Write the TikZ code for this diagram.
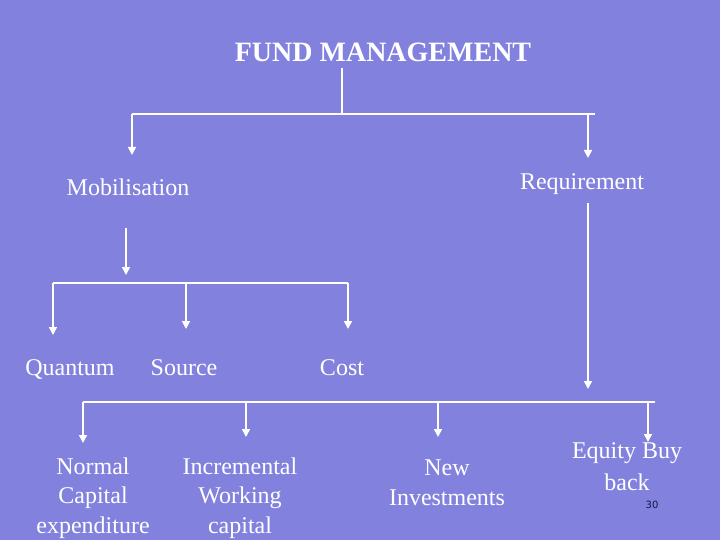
\documentclass[tikz,border=0pt]{standalone}
\usepackage{fontspec}
\setmainfont{Liberation Serif}
\newfontfamily\numfont{DejaVu Sans}
\usepackage{xcolor}
\usetikzlibrary{arrows.meta, positioning}
\definecolor{slideblue}{RGB}{130,130,222}
\definecolor{pagenum}{RGB}{20,20,70}

\begin{document}
\begin{tikzpicture}[x=1pt, y=-1pt, >={Triangle[width=8pt, length=8pt, fill=white]},
    lbl/.style={text=white, font=\fontsize{24}{29.5}\selectfont, align=center, anchor=base, inner sep=0pt},
    wire/.style={draw=white, line width=1.6pt}]
                                \fill[slideblue] (0, 0) rectangle (720, 540);
                                \useasboundingbox (0, 0) rectangle (720, 540);
                                % labels (base = last line)
                                \node[lbl, font=\bfseries\fontsize{28}{34}\selectfont] (fund) at (383, 62) {FUND MANAGEMENT};
                                \node[lbl] (mob) at (128, 196) {Mobilisation};
                                \node[lbl] (req) at (582, 190) {Requirement};
                                \node[lbl] (quantum) at (70, 375) {Quantum};
                                \node[lbl] (source) at (184, 375) {Source};
                                \node[lbl] (cost) at (342, 375) {Cost};
                                \node[lbl] (normal) at (93, 533) {Normal\\Capital\\expenditure};
                                \node[lbl] (incr) at (240, 533) {Incremental\\Working\\capital};
                                \node[lbl] (newinv) at (447, 505) {New\\Investments};
                                \node[lbl, font=\fontsize{24}{32}\selectfont] (equity) at (627, 490) {Equity Buy\\back};
                                \node[anchor=base, inner sep=0pt, text=pagenum, font=\numfont\fontsize{10}{12}\selectfont] (pgno) at (652, 508) {30};
                                % joints
                                \coordinate (fa) at (342, 68);
                                \coordinate (fb) at (342, 114);
                                \coordinate (bl) at (132, 114);
                                \coordinate (br) at (595, 114);
                                \coordinate (blx) at (132, 155);
                                \coordinate (rq) at (588, 114);
                                \coordinate (rqx) at (588, 158);
                                \coordinate (ma) at (126, 228);
                                \coordinate (mb) at (126, 275);
                                \coordinate (ml) at (53, 283);
                                \coordinate (mm) at (186, 283);
                                \coordinate (mr) at (348, 283);
                                \coordinate (mlx) at (53, 335);
                                \coordinate (mmx) at (186, 329);
                                \coordinate (mrx) at (348, 329);
                                \coordinate (ra) at (588, 203);
                                \coordinate (rb) at (588, 389);
                                \coordinate (ql) at (83, 402);
                                \coordinate (qr) at (655, 402);
                                \coordinate (q1) at (246, 402);
                                \coordinate (q2) at (438, 402);
                                \coordinate (q3) at (648, 402);
                                \coordinate (qlx) at (83, 443);
                                \coordinate (q1x) at (246, 437);
                                \coordinate (q2x) at (438, 437);
                                \coordinate (q3x) at (648, 442);
                                \draw[wire]
                                (fa) -- (fb)
                                (bl) -- (br)
                                (ml) -- (mr)
                                (ql) -- (qr);
                                \draw[wire]
                                (bl) edge[->] (blx)
                                (rq) edge[->] (rqx)
                                (ma) edge[->] (mb)
                                (ml) edge[->] (mlx)
                                (mm) edge[->] (mmx)
                                (mr) edge[->] (mrx)
                                (ra) edge[->] (rb)
                                (ql) edge[->] (qlx)
                                (q1) edge[->] (q1x)
                                (q2) edge[->] (q2x)
                                (q3) edge[->] (q3x);
                            \end{tikzpicture}
\end{document}
